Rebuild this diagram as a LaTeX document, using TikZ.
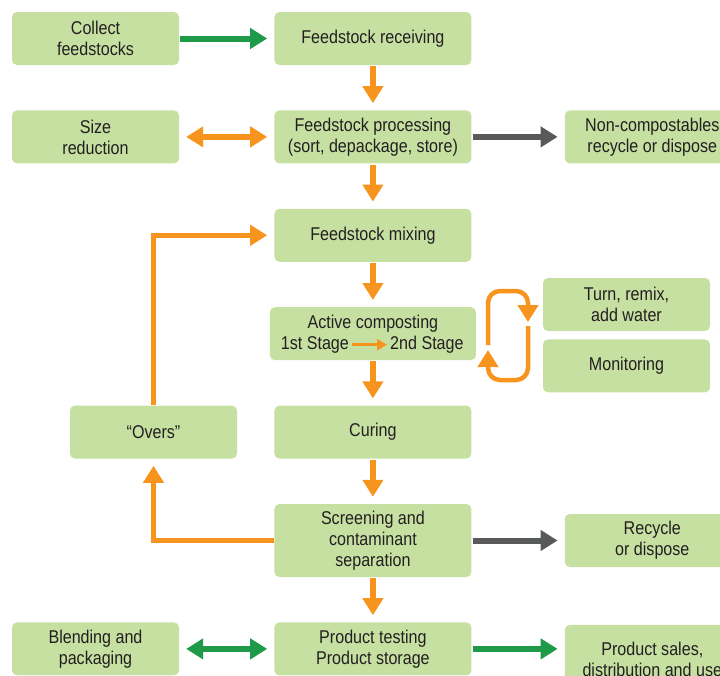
\documentclass[tikz,border=0pt]{standalone}
\usepackage{fontspec}
\setmainfont{Liberation Sans}[FakeStretch=0.87]
\usetikzlibrary{positioning, arrows.meta}
\definecolor{boxgreen}{RGB}{198,224,162}
\definecolor{arrowgreen}{RGB}{30,154,72}
\definecolor{arroworange}{RGB}{247,148,29}
\definecolor{arrowgray}{RGB}{88,89,91}
\definecolor{textdark}{RGB}{35,31,32}

\begin{document}
\begin{tikzpicture}[x = 1pt, y = -1pt, node distance = 45pt and 95pt,
    main/.style = {fill=boxgreen, rounded corners=5pt, minimum width=197pt, minimum height=53pt, align=center, text=textdark, font=\fontsize{18.5}{21}\selectfont},
    side/.style = {main, minimum width=167pt},
    far/.style = {main, minimum width=175pt},
    word/.style = {inner sep=0pt, text=textdark, font=\fontsize{18.5}{21}\selectfont},
    flow/.style = {line width=6pt, -{Triangle[width=20pt,length=17pt]}, shorten >=7pt, shorten <=1pt},
    both/.style = {flow, {Triangle[width=20pt,length=17pt]}-{Triangle[width=20pt,length=17pt]}, shorten <=7pt},
    back/.style = {line width=4.5pt, arroworange, -{Triangle[width=20pt,length=17pt]}, shorten >=7pt}]
  \useasboundingbox (0,0) rectangle (720,675);
  \clip (0,0) rectangle (720,675);
  \node[side] (1) at (95.5,38.5) {Collect\\feedstocks};
  \node[main] (2) [right = of 1] {Feedstock receiving};
  \node[main] (3) [below = of 2] {Feedstock processing\\(sort, depackage, store)};
  \node[side] (4) [left = of 3] {Size\\reduction};
  \node[far] (5) [right = 93pt of 3] {Non-compostables\\recycle or dispose};
  \node[main] (6) [below = of 3] {Feedstock mixing};
  \node[main, minimum width=206pt] (7) [below = of 6] {};
  \node[word] (7a) at ([yshift=10pt]7.center) {Active composting};
  \node[word] (7b) at ([xshift=-58pt, yshift=-11pt]7.center) {1st Stage};
  \node[word] (7c) at ([xshift=54pt, yshift=-11pt]7.center) {2nd Stage};
  \node[main] (8) [below = of 7] {Curing};
  \node[side] (9) [left = 37pt of 8] {“Overs”};
  \node[main, minimum height=73pt] (10) [below = of 8] {Screening and\\contaminant\\separation};
  \node[far] (11) [right = 93pt of 10] {Recycle\\or dispose};
  \node[main] (12) [below = of 10] {Product testing\\Product storage};
  \node[side] (13) [left = of 12] {Blending and\\packaging};
  \node[far, minimum height=68pt] (14) [right = 93pt of 12, yshift=-10pt] {Product sales,\\distribution and use};
  \node[side] (15) at (626.5,304.5) {Turn, remix,\\add water};
  \node[side] (16) [below = 8pt of 15] {Monitoring};
  \coordinate (a) at (488,345);
  \coordinate (b) at (528,291);
  \coordinate (c) at (528,322);
  \coordinate (d) at (528,326);
  \coordinate (e) at (488,380);
  \coordinate (f) at (488,350);
  \draw[flow, arrowgreen] (1) -- (2);
  \draw[flow, arroworange] (2) -- (3);
  \draw[both, arroworange] (4) -- (3);
  \draw[flow, arrowgray] (3) -- (5);
  \draw[flow, arroworange] (3) -- (6);
  \draw[flow, arroworange] (6) -- (7);
  \draw[line width=2.5pt, arroworange, -{Triangle[width=11pt,length=10pt]}, shorten <=3pt, shorten >=3pt] (7b) -- (7c);
  \draw[flow, arroworange] (7) -- (8);
  \draw[flow, arroworange] (8) -- (10);
  \draw[back] (9) |- (6);
  \draw[back] (10) -| (9);
  \draw[flow, arrowgray] (10) -- (11);
  \draw[flow, arroworange] (10) -- (12);
  \draw[both, arrowgreen] (13) -- (12);
  \draw[flow, arrowgreen] (12.east) -- (12.east -| 14.west);
  \draw[back, rounded corners=12pt, shorten >=0pt] (a) |- (b) -- (c);
  \draw[back, rounded corners=12pt, shorten >=0pt] (d) |- (e) -- (f);
\end{tikzpicture}
\end{document}
